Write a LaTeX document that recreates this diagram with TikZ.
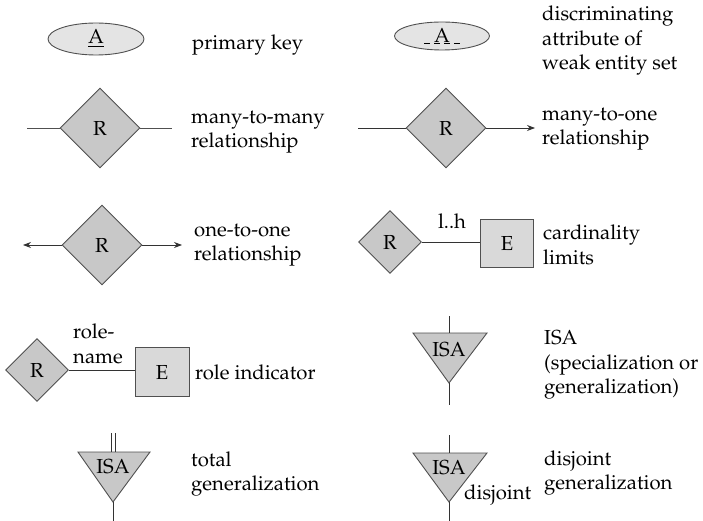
\documentclass[tikz,border=0pt]{standalone}
\usepackage[T1]{fontenc}
\usepackage{mathpazo}
\usetikzlibrary{shapes.geometric,arrows.meta}
\definecolor{edgegray}{HTML}{505050}
\definecolor{relfill}{HTML}{C8C8C8}
\definecolor{entfill}{HTML}{D9D9D9}
\definecolor{attfill}{HTML}{E4E4E4}
\begin{document}
\begin{tikzpicture}[x=1pt,y=-1pt,
  font=\fontsize{20.3}{24.5}\selectfont,
  rel/.style={diamond,aspect=1,draw=edgegray,fill=relfill,line width=0.9pt,inner sep=0pt},
  ent/.style={rectangle,draw=edgegray,fill=entfill,line width=0.9pt,inner sep=0pt},
  att/.style={ellipse,draw=edgegray,fill=attfill,line width=0.9pt,inner sep=0pt},
  lbl/.style={inner sep=0pt,anchor=west,align=left},
  conn/.style={draw=black!80,line width=0.8pt},
  arr/.style={conn,-{Stealth[length=8pt,width=6pt]}},
  tri/.style={draw=edgegray,fill=relfill,line width=0.9pt}
]
\useasboundingbox (0,0) rectangle (703,521);

% primary key
\node[att,minimum width=96pt,minimum height=32pt] (pk) at (96,39) {\underline{A}};
\node[lbl] (pkl) at (192,45) {primary key};

% discriminating attribute
\node[att,minimum width=95pt,minimum height=28pt] (da) at (442,36) {A};
\coordinate (dua) at (424,43);
\coordinate (dub) at (462,43);
\draw[black,line width=0.7pt,dash pattern=on 6pt off 4pt] (dua) -- (dub);
\node[lbl] (dal) at (542,41) {discriminating\\attribute of\\weak entity set};

% many-to-many
\node[rel,minimum width=80pt,minimum height=80pt] (mm) at (100,128) {R};
\coordinate (mmL) at (27,128);
\coordinate (mmR) at (172,128);
\draw[conn,draw=edgegray] (mmL) -- (mm.west);
\draw[conn,draw=edgegray] (mm.east) -- (mmR);
\node[lbl] (mml) at (191,132) {many-to-many\\relationship};

% many-to-one
\node[rel,minimum width=80pt,minimum height=80pt] (mo) at (446,128) {R};
\coordinate (moL) at (358,128);
\coordinate (moR) at (535,128);
\draw[conn] (moL) -- (mo.west);
\draw[arr] (mo.east) -- (moR);
\node[lbl] (mol) at (542,129) {many-to-one\\relationship};

% one-to-one
\node[rel,minimum width=80pt,minimum height=80pt] (oo) at (102,245) {R};
\coordinate (ooL) at (23,245);
\coordinate (ooR) at (182,245);
\draw[arr] (oo.west) -- (ooL);
\draw[arr] (oo.east) -- (ooR);
\node[lbl] (ool) at (194,245) {one-to-one\\relationship};

% cardinality limits
\node[rel,minimum width=63pt,minimum height=63pt] (cr) at (390,242) {R};
\node[ent,minimum width=53pt,minimum height=48pt] (ce) at (507,243) {E};
\draw[conn] (cr.east) -- (ce.west |- cr.east);
\node (lh) at (452,221) {l..h};
\node[lbl] (cl) at (543,245) {cardinality\\limits};

% role indicator
\node[rel,minimum width=63pt,minimum height=63pt] (rr) at (37,370) {R};
\node[ent,minimum width=54pt,minimum height=49pt] (re) at (162,372) {E};
\draw[conn] (rr.east) -- (re.west |- rr.east);
\node[lbl] (rn) at (73,344) {role-\\name};
\node[lbl] (ril) at (195,372) {role indicator};

% ISA
\coordinate (i1a) at (413,333);
\coordinate (i1b) at (487,333);
\coordinate (i1c) at (449,383);
\coordinate (i1t) at (449,316);
\coordinate (i1d) at (449,405);
\draw[tri] (i1a) -- (i1b) -- (i1c) -- cycle;
\node (i1) at (449,350) {ISA};
\draw[conn] (i1t) -- (i1t |- i1a);
\draw[conn] (i1c) -- (i1d);
\node[lbl] (i1l) at (544,365) {ISA\\(specialization or\\generalization)};

% total generalization
\coordinate (t1a) at (78,452);
\coordinate (t1b) at (150,452);
\coordinate (t1c) at (113,502);
\coordinate (t1t) at (113,433);
\coordinate (t1d) at (113,521);
\draw[tri] (t1a) -- (t1b) -- (t1c) -- cycle;
\node (t1) at (113,467) {ISA};
\draw[conn] ([xshift=-2pt]t1t) -- ([xshift=-2pt]t1t |- t1a);
\draw[conn] ([xshift=2pt]t1t) -- ([xshift=2pt]t1t |- t1a);
\draw[conn] (t1c) -- (t1d);
\node[lbl] (t1l) at (191,474) {total\\generalization};

% disjoint generalization
\coordinate (d1a) at (413,453);
\coordinate (d1b) at (487,453);
\coordinate (d1c) at (449,502);
\coordinate (d1t) at (449,435);
\coordinate (d1d) at (449,521);
\draw[tri] (d1a) -- (d1b) -- (d1c) -- cycle;
\node (d1) at (449,468) {ISA};
\draw[conn] (d1t) -- (d1t |- d1a);
\draw[conn] (d1c) -- (d1d);
\node[lbl] (dj) at (464,495) {disjoint};
\node[lbl] (d1l) at (544,473) {disjoint\\generalization};
\end{tikzpicture}
\end{document}
